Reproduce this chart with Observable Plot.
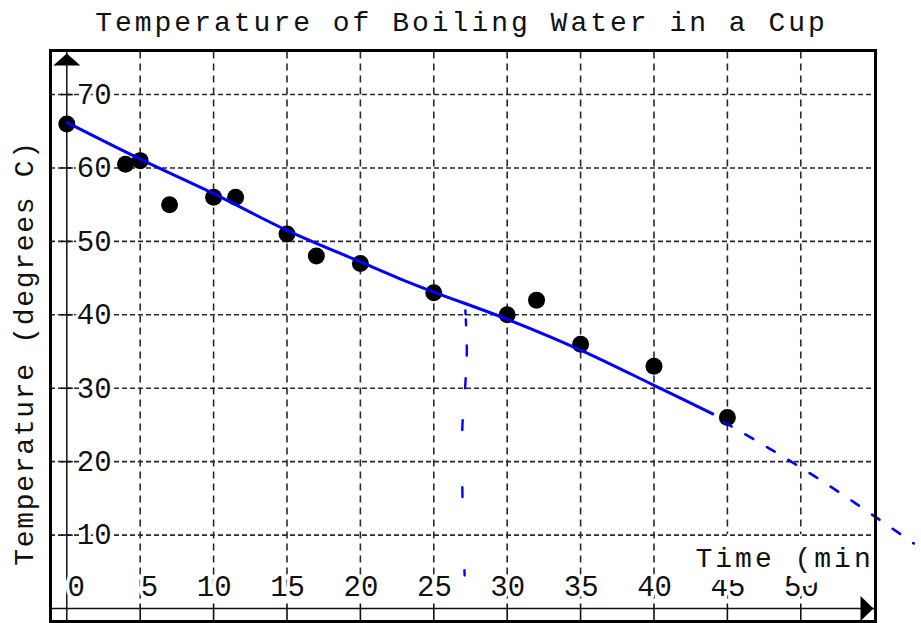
<!DOCTYPE html>
<html>
<head>
<meta charset="utf-8">
<script src="https://cdn.jsdelivr.net/npm/d3@7"></script>
<script src="https://cdn.jsdelivr.net/npm/@observablehq/plot@0.6"></script>
<style>
  html, body { margin: 0; padding: 0; background: #fff; }
  #chart svg { display: block; }
</style>
</head>
<body>
<div id="chart"></div>
<script>
// Measured cooling of boiling water in a cup
const times = [0, 4, 5, 7, 10, 11.5, 15, 17, 20, 25, 30, 32, 35, 40, 45];
const temps = [66, 60.5, 61, 55, 56, 56, 51, 48, 47, 43, 40, 42, 36, 33, 26];

// Smoothed trend through the measurements
const fitTime = [0, 5, 10, 15, 20, 22.7, 25, 30, 35, 40, 44];
const fitTemp = [66.2, 61.2, 56.5, 51.5, 47.2, 44.9, 43.1, 39.4, 35.2, 30.4, 26.5];

// Extrapolation of the trend beyond the last reading
const extTime = [44.75, 50, 57.7];
const extTemp = [25.4, 19.2, 8.85];

// Dashed drop line near t = 27 min
const dropTime = [27.15, 27.25, 27.15, 26.95, 26.95, 27.1];
const dropTemp = [40.6, 35.1, 30.6, 24.9, 15.8, 4.5];

// Tick values and labels
const xTicks = [0, 5, 10, 15, 20, 25, 30, 35, 40, 45, 50];
const yTicks = [10, 20, 30, 40, 50, 60, 70];

const titleText = "Temperature of Boiling Water in a Cup";
const xLabel = "Time (min)";
const yLabel = "Temperature (degrees C)";

const points = times.map((t, i) => ({t, v: temps[i]}));
const fit = fitTime.map((t, i) => ({t, v: fitTemp[i]}));
const ext = extTime.map((t, i) => ({t, v: extTemp[i]}));
const drop = dropTime.map((t, i) => ({t, v: dropTemp[i]}));

const font = "Liberation Mono, DejaVu Sans Mono, monospace";
const ink = "#111";
const gridInk = "#2a2a2a";
const blue = "#0000ff";

// Small custom glyphs: axis arrowheads and cross ticks
const arrowUp = {draw(ctx) { ctx.moveTo(0, -6); ctx.lineTo(13.5, 6); ctx.lineTo(-13.5, 6); ctx.closePath(); }};
const arrowRight = {draw(ctx) { ctx.moveTo(6.5, 0); ctx.lineTo(-6.5, -12.5); ctx.lineTo(-6.5, 12.5); ctx.closePath(); }};
const hTick = {draw(ctx) { ctx.moveTo(-6, 0); ctx.lineTo(6, 0); }};
const vTick = {draw(ctx) { ctx.moveTo(0, -5); ctx.lineTo(0, 13); }};

const chart = Plot.plot({
  width: 921,
  height: 623,
  marginLeft: 50,
  marginRight: 46,
  marginTop: 50,
  marginBottom: 2,
  x: {domain: [-1.11, 55.09], axis: null},
  y: {domain: [-1.77, 76.0], axis: null},
  style: {background: "#fff", overflow: "visible"},
  marks: [
    // vertical grid
    Plot.ruleX(xTicks.filter(d => d > 0), {
      y1: 1.3, y2: 76.0, stroke: gridInk, strokeWidth: 1.6, strokeDasharray: "7,5"
    }),
    // axis lines
    Plot.ruleX([0], {stroke: ink, strokeWidth: 1.5}),
    Plot.ruleY([0], {stroke: ink, strokeWidth: 1.5}),
    // x tick labels
    Plot.text(xTicks, {
      x: d => d, y: 0, text: d => String(d), textAnchor: "end", lineAnchor: "bottom",
      dx: 18, dy: -13, fontSize: 29, fontFamily: font, fill: ink,
      stroke: "white", strokeWidth: 7, strokeLinejoin: "round"
    }),
    // x axis label with its white backing
    Plot.text([xLabel], {
      frameAnchor: "bottom-right", textAnchor: "start", lineAnchor: "bottom",
      dx: -180, dy: -55, fontSize: 28, fontFamily: font, fill: ink,
      stroke: "white", strokeWidth: 26, strokeLinejoin: "round", clip: "frame"
    }),
    // horizontal grid
    Plot.ruleY(yTicks, {stroke: gridInk, strokeWidth: 1.6, strokeDasharray: "5,3"}),
    // y tick labels
    Plot.text(yTicks, {
      x: 0, y: d => d, text: d => String(d), textAnchor: "start", lineAnchor: "middle",
      dx: 10, fontSize: 29, fontFamily: font, fill: ink,
      stroke: "white", strokeWidth: 6
    }),
    // cross ticks on both axes
    Plot.dot(yTicks, {x: 0, y: d => d, symbol: hTick, r: 6, fill: "none", stroke: ink, strokeWidth: 1.6}),
    Plot.dot(xTicks.filter(d => d > 0), {x: d => d, y: 0, symbol: vTick, r: 6, fill: "none", stroke: ink, strokeWidth: 1.6}),
    // arrowheads
    Plot.dot([0], {x: d => d, frameAnchor: "top", dy: 9, symbol: arrowUp, r: 6, fill: "#000", stroke: "none"}),
    Plot.dot([0], {y: d => d, frameAnchor: "right", dx: -8.5, symbol: arrowRight, r: 6, fill: "#000", stroke: "none"}),
    // measurements
    Plot.dot(points, {x: "t", y: "v", r: 8.5, fill: "#000", stroke: "none"}),
    // trend, extrapolation, drop line
    Plot.line(fit, {x: "t", y: "v", stroke: blue, strokeWidth: 3, curve: "catmull-rom"}),
    Plot.line(ext, {x: "t", y: "v", stroke: blue, strokeWidth: 2.6, strokeDasharray: "9,16", curve: "monotone-x"}),
    Plot.line(drop, {x: "t", y: "v", stroke: blue, strokeWidth: 2.4,
      strokeDasharray: "4 5 6 20 10 23 10 32 10 57 10 73 8 200", curve: "catmull-rom"}),
    // frame
    Plot.frame({stroke: "#000", strokeWidth: 3}),
    // title
    Plot.text([titleText], {
      frameAnchor: "top", lineAnchor: "bottom", dx: -1.5, dy: -20, fontSize: 28,
      fontFamily: font, fill: ink
    }),
    // y axis label
    Plot.text([yLabel], {
      frameAnchor: "left", rotate: -90, textAnchor: "middle", lineAnchor: "middle",
      dx: -26, dy: 17, fontSize: 28, fontFamily: font, fill: ink
    })
  ]
});

// Widen the letter spacing of the title and axis labels
const spacing = new Map([[titleText, "3px"], [xLabel, "3px"], [yLabel, "1.7px"]]);
d3.select(chart).selectAll("text")
  .filter(function() { return spacing.has(this.textContent); })
  .style("letter-spacing", function() { return spacing.get(this.textContent); });

document.getElementById("chart").appendChild(chart);
</script>
</body>
</html>
